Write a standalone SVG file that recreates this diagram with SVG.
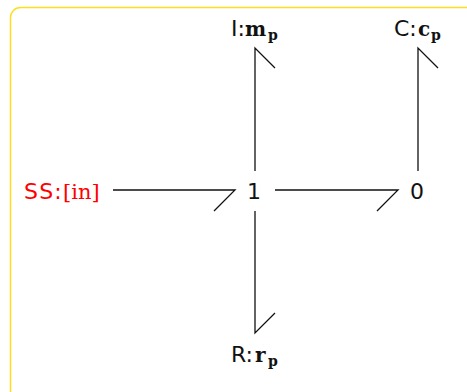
<svg xmlns="http://www.w3.org/2000/svg" width="467" height="392" viewBox="0 0 467 392">
<style>
.t{font-family:"DejaVu Sans",sans-serif;font-size:22px;fill:#111}
.m{font-family:"DejaVu Serif",serif;font-size:20px;font-weight:bold;fill:#111}
.s{font-family:"DejaVu Serif",serif;font-size:14px;font-weight:bold;fill:#111}
.r{font-family:"DejaVu Serif",serif;font-size:21px;fill:#f00}
.c{fill:none;stroke:#111;stroke-width:1.3}
</style>
<rect x="10.5" y="7.5" width="470" height="395" rx="10" fill="#fff" stroke="#ffdd22" stroke-width="1.5"/>
<g id="connectors">
<path class="c" d="M113 190H235L214 211"/>
<path class="c" d="M275 190H398L377 211"/>
<path class="c" d="M255 171V48L275 68"/>
<path class="c" d="M418 171V48L438 68"/>
<path class="c" d="M255 211V333L275 313"/>
</g>
<g id="n_ss"><text class="t" x="24" y="199" style="fill:#f00" letter-spacing="1.2">SS:</text><text class="r" x="63" y="199">[in]</text></g>
<g id="n_1"><text class="t" x="254" y="199" text-anchor="middle">1</text></g>
<g id="n_0"><text class="t" x="417" y="199" text-anchor="middle">0</text></g>
<g id="n_i"><text class="t" x="231" y="36">I:</text><text class="m" x="245" y="36">m</text><text class="s" x="268" y="40">p</text></g>
<g id="n_c"><text class="t" x="394" y="36">C:</text><text class="m" x="418" y="36">c</text><text class="s" x="431" y="40">p</text></g>
<g id="n_r"><text class="t" x="231" y="362">R:</text><text class="m" x="255" y="362">r</text><text class="s" x="268" y="366">p</text></g>
</svg>
